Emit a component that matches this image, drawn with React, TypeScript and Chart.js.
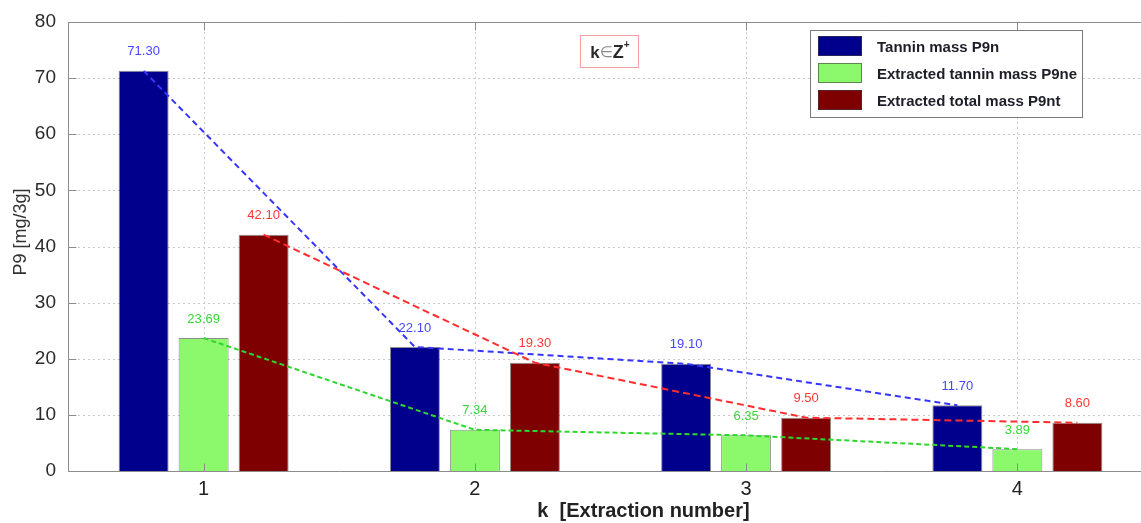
import { useEffect, useRef } from "react";
import { Chart, registerables } from "chart.js";

Chart.register(...registerables);

// Extraction number k
const categories = ["1", "2", "3", "4"];

// P9 masses in mg per 3 g
const tanninMass = [71.3, 22.1, 19.1, 11.7];
const extractedTanninMass = [23.69, 7.34, 6.35, 3.89];
const extractedTotalMass = [42.1, 19.3, 9.5, 8.6];

const yTicks = [0, 10, 20, 30, 40, 50, 60, 70, 80];

const seriesLabels = [
  "Tannin mass P9n",
  "Extracted tannin mass P9ne",
  "Extracted total mass P9nt",
];

const xTitle = "k  [Extraction number]";
const yTitle = "P9 [mg/3g]";

const FONT = "'Liberation Sans', Arial, sans-serif";

const barColors = ["#00008c", "#8cf96c", "#7e0000"];
const trendColors = ["#3535ff", "#2ed62e", "#ff2e2e"];
const trendDashes = [
  [6, 4],
  [5, 3],
  [7, 4],
];
const valueColors = ["#4646ff", "#38d838", "#ff3636"];
const axisColor = "#8c8c8c";

const decorPlugin = {
  id: "decor",
  beforeDatasetsDraw(chart: any) {
    const { ctx, chartArea: a, scales } = chart;
    const x = scales.x;
    const y = scales.y;
    ctx.save();
    ctx.strokeStyle = "#c9c9c9";
    ctx.lineWidth = 1;
    ctx.setLineDash([2, 3]);
    yTicks.slice(1, -1).forEach((v) => {
      const py = Math.round(y.getPixelForValue(v)) + 0.5;
      ctx.beginPath();
      ctx.moveTo(a.left, py);
      ctx.lineTo(a.right, py);
      ctx.stroke();
    });
    categories.forEach((_, i) => {
      const px = Math.round(x.getPixelForValue(i)) + 0.5;
      ctx.beginPath();
      ctx.moveTo(px, a.top);
      ctx.lineTo(px, a.bottom);
      ctx.stroke();
    });
    ctx.restore();
  },
  afterDatasetsDraw(chart: any) {
    const { ctx, chartArea: a, scales } = chart;
    const x = scales.x;
    const y = scales.y;
    ctx.save();

    // axes frame with inward tick marks
    ctx.setLineDash([]);
    ctx.strokeStyle = axisColor;
    ctx.lineWidth = 1;
    const L = Math.round(a.left) + 0.5;
    const T = Math.round(a.top) + 0.5;
    const B = Math.round(a.bottom) + 0.5;
    const R = Math.round(a.right) + 0.5;
    ctx.beginPath();
    ctx.moveTo(R, T);
    ctx.lineTo(L, T);
    ctx.lineTo(L, B);
    ctx.lineTo(R, B);
    ctx.stroke();
    yTicks.forEach((v) => {
      const py = Math.round(y.getPixelForValue(v)) + 0.5;
      ctx.beginPath();
      ctx.moveTo(L, py);
      ctx.lineTo(L + 8, py);
      ctx.stroke();
    });
    categories.forEach((_, i) => {
      const px = Math.round(x.getPixelForValue(i)) + 0.5;
      ctx.beginPath();
      ctx.moveTo(px, B);
      ctx.lineTo(px, B - 8);
      ctx.moveTo(px, T);
      ctx.lineTo(px, T + 8);
      ctx.stroke();
    });

    // dashed trend lines through the bar tops
    chart.data.datasets.forEach((_: any, d: number) => {
      const bars = chart.getDatasetMeta(d).data;
      ctx.strokeStyle = trendColors[d];
      ctx.lineWidth = 2;
      ctx.setLineDash(trendDashes[d]);
      ctx.beginPath();
      bars.forEach((b: any, i: number) => {
        if (i === 0) ctx.moveTo(b.x, b.y);
        else ctx.lineTo(b.x, b.y);
      });
      ctx.stroke();
    });
    ctx.setLineDash([]);

    // value labels above each bar
    ctx.font = `13px ${FONT}`;
    ctx.textAlign = "center";
    ctx.textBaseline = "middle";
    chart.data.datasets.forEach((ds: any, d: number) => {
      const bars = chart.getDatasetMeta(d).data;
      ctx.fillStyle = valueColors[d];
      bars.forEach((b: any, i: number) => {
        ctx.fillText(ds.data[i].toFixed(2), b.x, b.y - 19);
      });
    });

    // legend box
    const lgX = 810;
    const lgY = 30;
    const lgW = 272;
    const lgH = 87;
    ctx.fillStyle = "#ffffff";
    ctx.fillRect(lgX, lgY, lgW, lgH);
    ctx.strokeStyle = "#7a7a7a";
    ctx.lineWidth = 1;
    ctx.strokeRect(lgX + 0.5, lgY + 0.5, lgW, lgH);
    ctx.font = `bold 15px ${FONT}`;
    ctx.textAlign = "left";
    ctx.textBaseline = "middle";
    seriesLabels.forEach((label, i) => {
      const cy = lgY + 16 + i * 27;
      ctx.fillStyle = barColors[i];
      ctx.fillRect(lgX + 8, cy - 10, 44, 20);
      ctx.strokeStyle = "rgba(60,60,60,0.6)";
      ctx.strokeRect(lgX + 8.5, cy - 9.5, 43, 19);
      ctx.fillStyle = "#1e1e28";
      ctx.fillText(label, lgX + 67, cy + 2);
    });

    // k ∈ Z+ annotation
    const bx = 580;
    const by = 35;
    const bw = 58;
    const bh = 32;
    ctx.strokeStyle = "#f2a2a2";
    ctx.strokeRect(bx + 0.5, by + 0.5, bw, bh);
    const parts = [
      { t: "k", f: `bold 17px ${FONT}`, c: "#2a2a2a", dy: 0 },
      { t: "\u2208", f: `15px 'DejaVu Sans', sans-serif`, c: "#8a8a8a", dy: 0 },
      { t: "Z", f: `bold 18px ${FONT}`, c: "#2a2a2a", dy: 0 },
      { t: "+", f: `bold 10px ${FONT}`, c: "#2a2a2a", dy: -8 },
    ];
    let total = 0;
    parts.forEach((p) => {
      ctx.font = p.f;
      total += ctx.measureText(p.t).width;
    });
    let tx = bx + (bw - total) / 2 + 1;
    const ty = by + bh / 2 + 2;
    ctx.textBaseline = "middle";
    parts.forEach((p) => {
      ctx.font = p.f;
      ctx.fillStyle = p.c;
      ctx.fillText(p.t, tx, ty + p.dy);
      tx += ctx.measureText(p.t).width;
    });

    // axis titles
    ctx.fillStyle = "#222";
    ctx.font = `bold 20px ${FONT}`;
    ctx.textAlign = "center";
    ctx.textBaseline = "middle";
    ctx.fillText(xTitle, (a.left + a.right) / 2 + 33, 511);

    ctx.save();
    ctx.translate(21, 232);
    ctx.rotate(-Math.PI / 2);
    ctx.font = `18px ${FONT}`;
    ctx.fillStyle = "#333";
    ctx.fillText(yTitle, 0, 0);
    ctx.restore();

    ctx.restore();
  },
};

export default function App() {
  const canvasRef = useRef<HTMLCanvasElement | null>(null);

  useEffect(() => {
    const canvas = canvasRef.current;
    if (!canvas) return;
    const seriesData = [tanninMass, extractedTanninMass, extractedTotalMass];
    const chart = new Chart(canvas, {
      type: "bar",
      data: {
        labels: categories,
        datasets: seriesData.map((values, i) => ({
          label: seriesLabels[i],
          data: values,
          backgroundColor: barColors[i],
          borderColor: "rgba(50,50,50,0.55)",
          borderWidth: 1,
          categoryPercentage: 0.6636,
          barPercentage: 0.8333,
        })),
      },
      options: {
        responsive: false,
        animation: false,
        devicePixelRatio: 1,
        layout: { padding: { top: 22, right: 17, left: 0, bottom: 0 } },
        plugins: {
          legend: { display: false },
          tooltip: { enabled: false },
        },
        scales: {
          x: {
            grid: { display: false },
            border: { display: false },
            ticks: {
              color: "#222",
              padding: -2,
              font: { family: FONT, size: 20 },
            },
            afterFit: (s: any) => {
              s.height = 52;
            },
          },
          y: {
            min: 0,
            max: 80,
            grid: { display: false },
            border: { display: false },
            ticks: {
              stepSize: 10,
              color: "#2a2a2a",
              padding: 4,
              font: { family: FONT, size: 19 },
            },
            afterFit: (s: any) => {
              s.width = 68;
            },
          },
        },
      },
      plugins: [decorPlugin],
    });
    return () => chart.destroy();
  }, []);

  return (
    <div
      style={{
        position: "fixed",
        left: 0,
        top: 0,
        width: 1141,
        height: 523,
        overflow: "hidden",
        background: "#fff",
      }}
    >
      <canvas
        ref={canvasRef}
        width={1170}
        height={523}
        style={{ display: "block", width: 1170, height: 523 }}
      />
    </div>
  );
}
